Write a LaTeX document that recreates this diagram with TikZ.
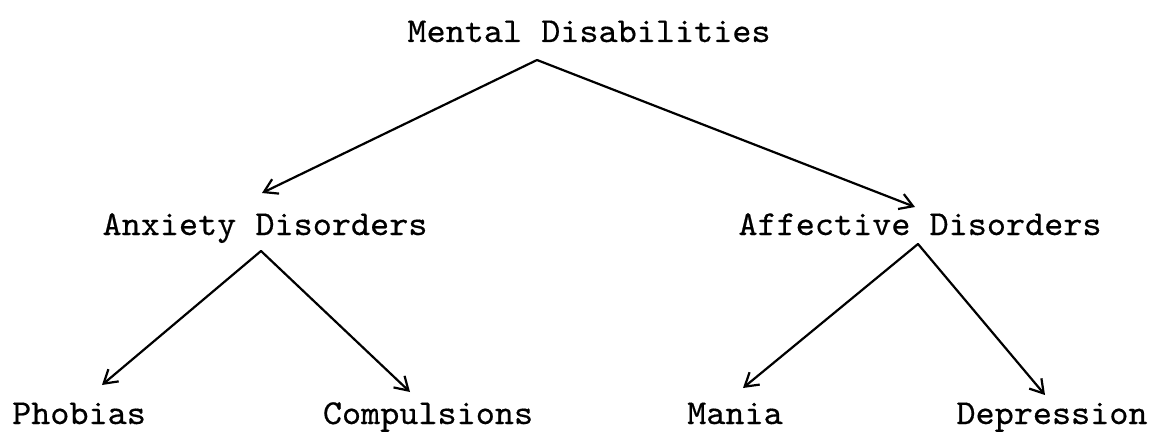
\documentclass[tikz,border=0pt]{standalone}
\usepackage{fontspec}
\newfontfamily\courlike[FakeStretch=1.04,FakeBold=0.5]{lmmono10-regular.otf}
\usetikzlibrary{arrows.meta}
\begin{document}
\begin{tikzpicture}[x=1pt,y=-1pt,
  lbl/.style={font=\fontsize{35}{40}\selectfont\courlike, inner sep=0pt, anchor=base},
  link/.style={line width=2.2pt, line cap=round, -{Straight Barb[length=13pt,width=16pt,line width=2.2pt]}}]
\useasboundingbox (0,0) rectangle (1155,433);
\node[lbl] (mental) at (589,42) {Mental Disabilities};
\node[lbl] (anx) at (265,235) {Anxiety Disorders};
\node[lbl] (aff) at (920,235) {Affective Disorders};
\node[lbl] (pho) at (79,424) {Phobias};
\node[lbl] (comp) at (428,424) {Compulsions};
\node[lbl] (mania) at (735,424) {Mania};
\node[lbl] (dep) at (1052,424) {Depression};
\coordinate (a1) at (537,60);
\coordinate (t1) at (262,193);
\coordinate (t2) at (915,207);
\coordinate (a2) at (261,251);
\coordinate (t3) at (102,385);
\coordinate (t4) at (410,392);
\coordinate (a3) at (918,244);
\coordinate (t5) at (743,388);
\coordinate (t6) at (1045,395);
\draw[link] (a1) -- (t1);
\draw[link] (a1) -- (t2);
\draw[link] (a2) -- (t3);
\draw[link] (a2) -- (t4);
\draw[link] (a3) -- (t5);
\draw[link] (a3) -- (t6);
\end{tikzpicture}
\end{document}
